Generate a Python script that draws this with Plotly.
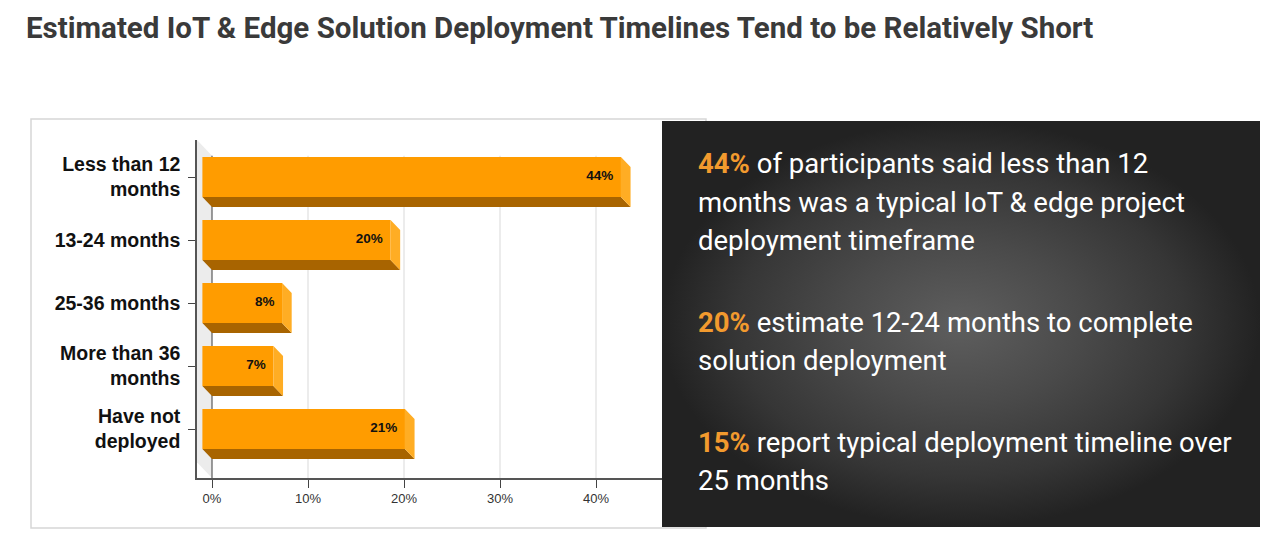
import plotly.graph_objects as go

# ---------------- data ----------------
categories = ["Less than 12<br>months", "13-24 months", "25-36 months",
              "More than 36<br>months", "Have not<br>deployed"]
values = [43.6, 19.6, 8.3, 7.4, 21.1]
x_ticks = [0, 10, 20, 30, 40]
x_tick_labels = ["0%", "10%", "20%", "30%", "40%"]

title = "Estimated IoT & Edge Solution Deployment Timelines Tend to be Relatively Short"
panel_lines = [
    ("44%", " of participants said less than 12"),
    ("", "months was a typical IoT &amp; edge project"),
    ("", "deployment timeframe"),
    ("20%", " estimate 12-24 months to complete"),
    ("", "solution deployment"),
    ("15%", " report typical deployment timeline over"),
    ("", "25 months"),
]
panel_line_y = [164, 202, 240, 322, 360, 442, 480]

# ---------------- styling / geometry ----------------
OFF = 8                      # page body margin
W, H = 1264, 528             # figure size so that it fits in the window


def fx(p):                   # window pixel -> paper x
    return (p - OFF) / W


def fy(p):                   # window pixel -> paper y
    return 1 - (p - OFF) / H


FRONT = "#FF9C00"
BOTTOM = "#A86400"
SIDE = "#FFAD24"
HL = "#F29A2E"

x_range = [-1.5625, 46.875]
y_range = [4.7778, -0.5873]          # reversed: first category on top
bar_h = 0.635                         # front-face thickness (y units)
dx = 1.0                              # 3D depth in x units
dy = 0.16                             # 3D depth in y units
wall_dy = 0.25

y_pos = list(range(len(categories)))

fig = go.Figure()

# front faces
fig.add_trace(go.Bar(
    orientation="h", y=y_pos, x=values, base=[-dx] * len(values),
    width=bar_h, marker=dict(color=FRONT, line=dict(width=0)),
    hoverinfo="skip", showlegend=False))

# bottom faces and side faces
bx, by, sx, sy = [], [], [], []
for k, v in zip(y_pos, values):
    top, bot = k - bar_h / 2, k + bar_h / 2
    bx += [-dx, v - dx, v, 0, -dx, None]
    by += [bot, bot, bot + dy, bot + dy, bot, None]
    sx += [v - dx, v, v, v - dx, v - dx, None]
    sy += [top, top + dy, bot + dy, bot, top, None]
fig.add_trace(go.Scatter(x=bx, y=by, mode="lines", fill="toself",
                         fillcolor=BOTTOM, line=dict(width=0, color=BOTTOM),
                         hoverinfo="skip", showlegend=False))
fig.add_trace(go.Scatter(x=sx, y=sy, mode="lines", fill="toself",
                         fillcolor=SIDE, line=dict(width=0, color=SIDE),
                         hoverinfo="skip", showlegend=False))

# value labels
fig.add_trace(go.Scatter(
    x=[v - dx - 0.8 for v in values], y=y_pos, mode="text",
    text=[f"<b>{round(v)}%</b>" for v in values], textposition="middle left",
    textfont=dict(family="Arial, Liberation Sans", size=13.5, color="#111"),
    hoverinfo="skip", showlegend=False))

# dark radial-gradient panel (own hidden axes)
fig.add_trace(go.Scatter(
    x=[0, 1, 1, 0, 0], y=[0, 0, 1, 1, 0], xaxis="x2", yaxis="y2",
    mode="lines", fill="toself", line=dict(width=0),
    fillgradient=dict(type="radial",
                      colorscale=[[0, "#5e5e5e"], [0.4, "#4a4a4a"],
                                  [0.75, "#363636"], [1, "#222222"]]),
    hoverinfo="skip", showlegend=False))

shapes = []
# white framed panel
shapes.append(dict(type="rect", xref="paper", yref="paper",
                   x0=fx(31), x1=fx(706), y0=fy(528), y1=fy(119),
                   line=dict(color="#D6D6D6", width=1.5), fillcolor="white",
                   layer="below"))
# left wall
shapes.append(dict(type="path", xref="x", yref="y", layer="between",
                   path=(f"M {x_range[0]} {y_range[1]} L 0 {y_range[1] + wall_dy} "
                         f"L 0 {y_range[0]} L {x_range[0]} {y_range[0] - wall_dy} Z"),
                   fillcolor="#ECECEC", line=dict(width=0)))
# grid lines
for t in x_ticks:
    shapes.append(dict(type="line", xref="x", yref="y", layer="between",
                       x0=t, x1=t, y0=y_range[1] + wall_dy, y1=y_range[0],
                       line=dict(color="#666" if t == 0 else "#D9D9D9",
                                 width=1.3 if t == 0 else 1)))

annotations = [dict(text=f"<b>{title}</b>", xref="paper", yref="paper",
                    x=fx(25), y=fy(28), xanchor="left", yanchor="middle",
                    showarrow=False, borderpad=0,
                    font=dict(family="Roboto", size=29.5, color="#3a3a3a"))]
for (hl, rest), yy in zip(panel_lines, panel_line_y):
    txt = (f"<b><span style='color:{HL}'>{hl}</span></b>" if hl else "") + rest
    annotations.append(dict(text=txt, xref="paper", yref="paper",
                            x=fx(697), y=fy(yy), xanchor="left",
                            yanchor="middle", showarrow=False, borderpad=0,
                            font=dict(family="Roboto", size=27.5, color="white")))

fig.update_layout(
    width=W, height=H, margin=dict(l=0, r=0, t=0, b=0),
    paper_bgcolor="white", plot_bgcolor="rgba(0,0,0,0)",
    showlegend=False, barmode="overlay",
    xaxis=dict(domain=[fx(197), fx(662)], range=x_range, showgrid=False,
               zeroline=False, showline=True, linecolor="#555", linewidth=1.5,
               ticks="outside", ticklen=8, tickcolor="#444",
               tickvals=x_ticks, ticktext=x_tick_labels,
               tickfont=dict(family="Arial, Liberation Sans", size=13, color="#333"),
               fixedrange=True),
    yaxis=dict(domain=[fy(478), fy(140)], range=y_range, showgrid=False,
               zeroline=False, showline=True, linecolor="#555", linewidth=1.5,
               ticks="outside", ticklen=7, tickcolor="#444",
               tickvals=y_pos, ticktext=[f"<b>{c}</b>" for c in categories],
               tickfont=dict(family="Arial, Liberation Sans", size=19.5, color="#111"),
               ticklabelstandoff=4, fixedrange=True),
    xaxis2=dict(domain=[fx(662), fx(1260)], range=[0, 1], visible=False,
                fixedrange=True),
    yaxis2=dict(domain=[fy(527), fy(121)], range=[0, 1], visible=False,
                fixedrange=True),
    shapes=shapes, annotations=annotations,
)

fig.write_html("out.html")
